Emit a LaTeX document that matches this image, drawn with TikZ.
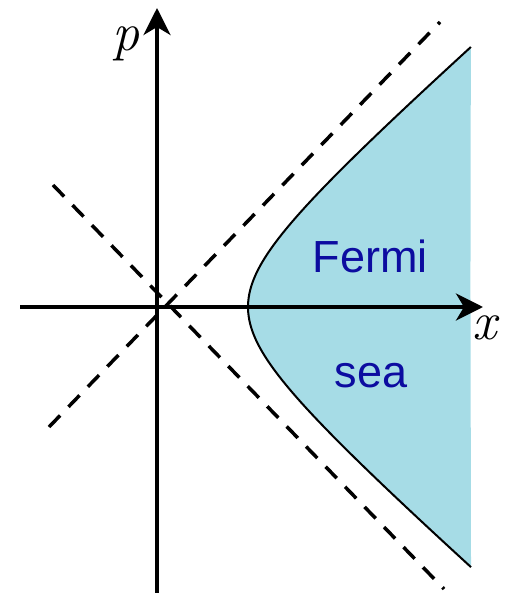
\documentclass[tikz,border=0pt]{standalone}
\usepackage{fontspec}
\newfontfamily\seafont{Liberation Sans}
\usetikzlibrary{arrows.meta}
\definecolor{seablue}{RGB}{166,220,230}
\definecolor{textblue}{RGB}{12,12,160}
\tikzset{
  axis/.style={line width=4pt,-{Stealth[length=27pt,width=27pt,inset=8pt]}},
  asym/.style={line width=3.5pt,dash pattern=on 16pt off 12pt}
}
\begin{document}
\begin{tikzpicture}[x=1pt,y=-1pt]
        \useasboundingbox (0,0) rectangle (506,593);
        % Fermi sea
        \fill[seablue,domain=-1.97:1.97,samples=80] plot({164+42*(exp(\x)+exp(-\x))},{307-37*(exp(\x)-exp(-\x))}) -- (470,568) -- (470,46) -- cycle;
        \draw[line width=2pt,domain=-1.97:1.97,samples=80] plot({164+42*(exp(\x)+exp(-\x))},{307-37*(exp(\x)-exp(-\x))});
        \node[textblue,font=\seafont\fontsize{45}{45}\selectfont,anchor=base] (fermi) at (370,272) {Fermi};
        \node[textblue,font=\seafont\fontsize{45}{45}\selectfont,anchor=base] (sea) at (371,387) {sea};
        % asymptotes
        \coordinate (a1) at (49,427);
        \coordinate (b1) at (440,22);
        \coordinate (a2) at (53,185);
        \coordinate (b2) at (444,589);
        \draw[asym] (a1) -- (b1);
        \draw[asym] (a2) -- (b2);
        % axes
        \coordinate (xl) at (20,307);
        \coordinate (xr) at (483,307);
        \coordinate (pb) at (157,593);
        \coordinate (pt) at (157,8);
        \draw[axis] (xl) -- (xr);
        \draw[axis] (pb) -- (pt);
        \node[font=\itshape\fontsize{54}{54}\selectfont] (plab) at (126,44) {p};
        \node[font=\itshape\fontsize{54}{54}\selectfont] (xlab) at (485,328) {x};
    \end{tikzpicture}
\end{document}
